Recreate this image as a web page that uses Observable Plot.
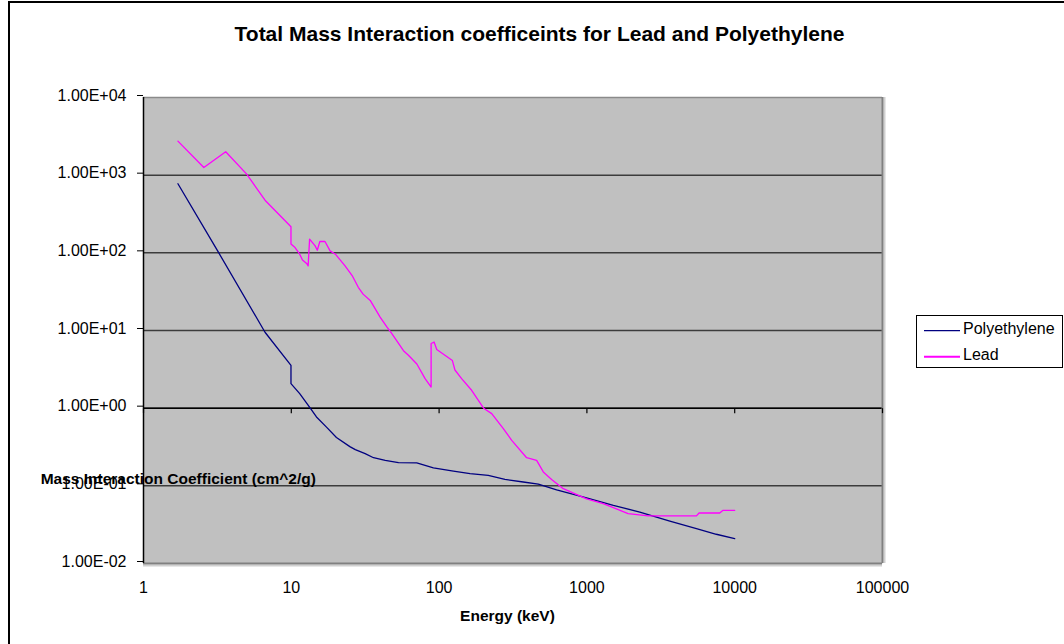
<!DOCTYPE html>
<html>
<head>
<meta charset="utf-8">
<script src="https://cdn.jsdelivr.net/npm/d3@7"></script>
<script src="https://cdn.jsdelivr.net/npm/@observablehq/plot@0.6"></script>
<style>
  html, body { margin: 0; padding: 0; background: #fff; }
  #chart { width: 1064px; height: 644px; overflow: hidden; }
</style>
</head>
<body>
<div id="chart"></div>
<script>
const titleText = "Total Mass Interaction coefficeints for Lead and Polyethylene";
const xTitle = "Energy (keV)";
const yTitle = "Mass Interaction Coefficient (cm^2/g)";
const seriesNames = ["Polyethylene", "Lead"];
const seriesColors = ["#000080", "#FF00FF"];

const xTicks = [1, 10, 100, 1000, 10000, 100000];
const xTickLabels = ["1", "10", "100", "1000", "10000", "100000"];
const yTicks = [0.01, 0.1, 1, 10, 100, 1000, 10000];
const yTickLabels = ["1.00E-02", "1.00E-01", "1.00E+00", "1.00E+01", "1.00E+02", "1.00E+03", "1.00E+04"];

const polyEnergy = [1.71, 3.21, 6.64, 9.95, 9.95, 11.4, 13.4, 14.8, 17.3, 20.2, 24.9, 27.1, 31.6, 36, 43.2, 53.1, 70.6, 91.5, 125, 162, 215, 279, 371, 469, 624, 995, 1510, 2280, 3640, 5510, 7510, 10000];
const polyValue  = [775, 102, 9.5, 3.56, 2.07, 1.54, 1.01, 0.77, 0.57, 0.42, 0.32, 0.292, 0.26, 0.23, 0.213, 0.199, 0.197, 0.170, 0.155, 0.144, 0.136, 0.121, 0.112, 0.105, 0.089, 0.070, 0.056, 0.046, 0.0352, 0.0281, 0.0238, 0.0209];

const leadEnergy = [1.71, 2.56, 3.60, 4.99, 6.64, 9.95, 9.95, 10.6, 11.4, 11.9, 12.7, 13.0, 13.3, 14.5, 15.0, 15.6, 16.9, 18.3, 20.0, 23.1, 25.8, 28.4, 30.6, 34.2, 39.9, 44.3, 47.9, 57.4, 62, 70.7, 80.4, 88.3, 88.3, 92.5, 96.4, 123, 128, 142, 166, 200, 227, 272, 310, 391, 457, 507, 577, 692, 995, 1290, 1900, 2595, 5510, 5740, 7920, 8340, 10000];
const leadValue  = [2740, 1256, 2000, 1030, 476, 217, 130, 117, 96, 81, 73, 68, 150, 123, 108, 140, 140, 106, 95, 68, 51, 36, 29.4, 24.4, 14.9, 11.1, 9.1, 5.5, 4.8, 3.7, 2.4, 1.87, 6.8, 7.1, 5.7, 4.1, 3.1, 2.4, 1.7, 1.0, 0.85, 0.545, 0.385, 0.23, 0.213, 0.151, 0.121, 0.092, 0.068, 0.059, 0.044, 0.041, 0.041, 0.0447, 0.0447, 0.0484, 0.0484];

const polyData = polyEnergy.map((e, i) => ({energy: e, value: polyValue[i]}));
const leadData = leadEnergy.map((e, i) => ({energy: e, value: leadValue[i]}));

const font = "'Liberation Sans', Arial, sans-serif";
const tickMark = {draw(ctx) { ctx.moveTo(0, 0); ctx.lineTo(0, 5); }};

const svg = Plot.plot({
  width: 1064,
  height: 644,
  marginLeft: 143,
  marginRight: 182,
  marginTop: 97,
  marginBottom: 81,
  style: {fontFamily: font, fontSize: "16px", background: "#fff", color: "#000"},
  x: {type: "log", domain: [1, 100000], label: null},
  y: {type: "log", domain: [0.01, 10000], label: null},
  marks: [
    Plot.frame({fill: "#C0C0C0", stroke: null}),
    Plot.ruleY(yTicks.slice(1, -1), {stroke: "#3c3c3c", strokeWidth: 1.5}),
    Plot.ruleY([10000], {stroke: "#8a8a8a", strokeWidth: 1.5}),
    Plot.ruleY([1], {stroke: "#000", strokeWidth: 1.5}),
    Plot.ruleX([100000], {stroke: "#d0d0d0", strokeWidth: 2, dx: 2}),
    Plot.ruleY([0.01], {stroke: "#d0d0d0", strokeWidth: 2, dy: 2}),
    Plot.ruleX([100000], {stroke: "#808080", strokeWidth: 2}),
    Plot.ruleY([0.01], {stroke: "#808080", strokeWidth: 2}),
    Plot.ruleX([1], {stroke: "#000", strokeWidth: 1.5}),
    Plot.dot(xTicks, {x: d => d, y: () => 1, symbol: tickMark, stroke: "#000", fill: "none", strokeWidth: 1.2}),
    Plot.axisY({ticks: yTicks, tickFormat: d => yTickLabels[yTicks.indexOf(d)], tickSize: 6, tickPadding: 11, fontSize: 16, dy: -2, stroke: "#000", label: null}),
    Plot.axisX({ticks: xTicks, tickFormat: d => xTickLabels[xTicks.indexOf(d)], tickSize: 0, tickPadding: 18, fontSize: 16, label: null}),
    Plot.line(polyData, {x: "energy", y: "value", stroke: seriesColors[0], strokeWidth: 1.3}),
    Plot.line(leadData, {x: "energy", y: "value", stroke: seriesColors[1], strokeWidth: 1.3})
  ]
});

const s = d3.select(svg);
s.append("rect").attr("x", 9).attr("y", 2).attr("width", 1100).attr("height", 700)
  .attr("fill", "none").attr("stroke", "#000").attr("stroke-width", 2);
s.append("text").attr("x", 539.5).attr("y", 41).attr("text-anchor", "middle")
  .attr("font-family", font).attr("font-weight", "bold").attr("font-size", "21px").attr("fill", "#000").text(titleText);
s.append("text").attr("x", 507.5).attr("y", 620.5).attr("text-anchor", "middle")
  .attr("font-family", font).attr("font-weight", "bold").attr("font-size", "15.5px").attr("fill", "#000").text(xTitle);
s.append("text").attr("x", 40.7).attr("y", 483.5).attr("text-anchor", "start")
  .attr("font-family", font).attr("font-weight", "bold").attr("font-size", "15.5px").attr("fill", "#000").text(yTitle);

const lg = s.append("g");
lg.append("rect").attr("x", 916.5).attr("y", 315.5).attr("width", 146).attr("height", 52)
  .attr("fill", "#fff").attr("stroke", "#000").attr("stroke-width", 1);
const legendY = [330.7, 356.7];
seriesNames.forEach((name, i) => {
  lg.append("line").attr("x1", 924).attr("x2", 960).attr("y1", legendY[i]).attr("y2", legendY[i])
    .attr("stroke", seriesColors[i]).attr("stroke-width", i === 1 ? 2 : 1.3);
  lg.append("text").attr("x", 963).attr("y", legendY[i] + 3 + i * 0.3).attr("text-anchor", "start")
    .attr("font-family", font).attr("font-size", "16px").attr("fill", "#000").text(name);
});

document.getElementById("chart").appendChild(svg);
</script>
</body>
</html>
